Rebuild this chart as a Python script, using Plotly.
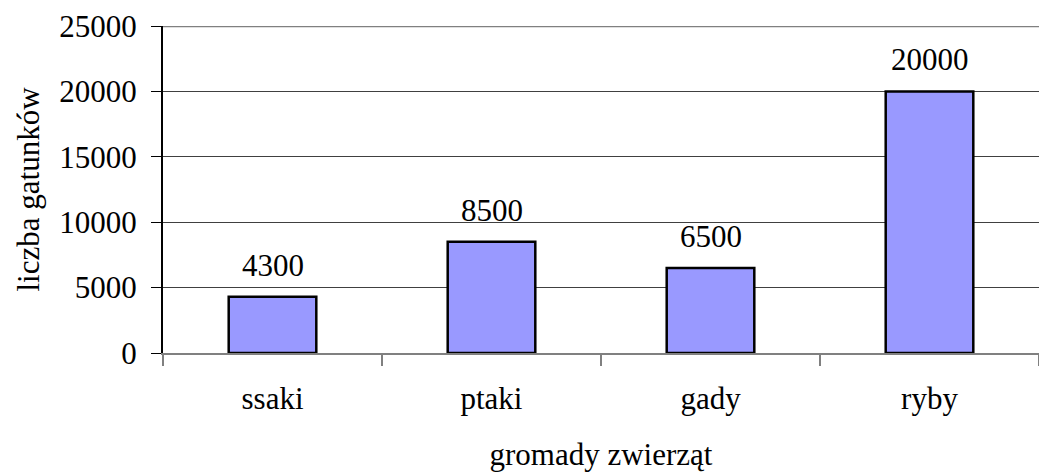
import plotly.graph_objects as go

categories = ["ssaki", "ptaki", "gady", "ryby"]
values = [4300, 8500, 6500, 20000]
y_ticks = [0, 5000, 10000, 15000, 20000, 25000]

FONT = "Liberation Serif, Times New Roman, serif"
FS = 31

fig = go.Figure()
fig.add_trace(go.Bar(
    x=categories, y=values,
    marker=dict(color="#9999FF", line=dict(color="#000000", width=2.5)),
    width=0.4,
    hoverinfo="skip",
))

for c, v in zip(categories, values):
    fig.add_annotation(x=c, y=v, text=str(v), showarrow=False,
                       yanchor="bottom", yshift=12,
                       font=dict(family=FONT, size=FS, color="#000000"))

fig.add_shape(type="line", xref="paper", yref="y", x0=0, x1=1, y0=25000, y1=25000,
              line=dict(color="#808080", width=2.5), layer="above")

fig.update_layout(
    width=1039, height=472,
    margin=dict(l=163, r=0, t=26, b=119, autoexpand=False),
    paper_bgcolor="white", plot_bgcolor="white",
    showlegend=False,
    font=dict(family=FONT, size=FS, color="#000000"),
    xaxis=dict(
        automargin=False,
        showgrid=False, showline=True, linecolor="#808080", linewidth=2,
        ticks="outside", tickson="boundaries", ticklen=11, tickcolor="#808080", tickwidth=2,
        tickfont=dict(family=FONT, size=FS), ticklabelstandoff=17,
        title=dict(text="gromady zwierząt", font=dict(family=FONT, size=FS), standoff=28),
    ),
    yaxis=dict(
        automargin=False,
        range=[0, 25000], tickvals=y_ticks, ticktext=[str(t) for t in y_ticks],
        showgrid=True, gridcolor="#404040", gridwidth=1,
        showline=True, linecolor="#000000", linewidth=2, zeroline=False,
        ticks="outside", ticklen=10, tickcolor="#000000", tickwidth=1,
        tickfont=dict(family=FONT, size=FS), ticklabelstandoff=8,
        title=dict(text="liczba gatunków", font=dict(family=FONT, size=FS), standoff=10),
    ),
)

fig.write_html("out.html", config={"displayModeBar": False})

with open("out.html", "r", encoding="utf-8") as f:
    html = f.read()
html = html.replace("<head>", "<head><style>html,body{margin:0;padding:0;overflow:hidden}</style>", 1)
with open("out.html", "w", encoding="utf-8") as f:
    f.write(html)
